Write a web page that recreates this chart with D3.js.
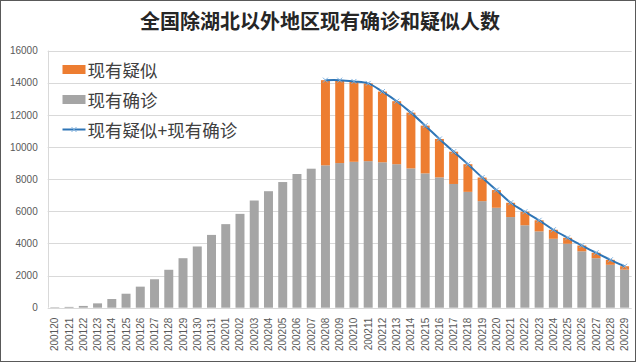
<!DOCTYPE html>
<html><head><meta charset="utf-8">
<script src="https://cdn.jsdelivr.net/npm/d3@7"></script>
<style>body{margin:0;background:#fff}svg{display:block}</style>
</head><body>
<svg id="c" width="641" height="364"></svg>
<script>
const categories = ["200120","200121","200122","200123","200124","200125","200126","200127","200128","200129","200130","200131",
"200201","200202","200203","200204","200205","200206","200207","200208","200209","200210","200211","200212","200213","200214",
"200215","200216","200217","200218","200219","200220","200221","200222","200223","200224","200225","200226","200227","200228","200229"];
const confirmed = [30,50,110,270,540,870,1310,1770,2360,3080,3810,4530,5200,5840,6670,7250,7820,8320,8650,
8860,9000,9080,9120,9050,8930,8670,8360,8110,7700,7210,6630,6220,5640,5130,4750,4290,3980,3510,3080,2670,2370];
const suspected = [null,null,null,null,null,null,null,null,null,null,null,null,null,null,null,null,null,null,null,
5300,5160,5000,4840,4400,3920,3470,2970,2390,2010,1720,1470,1100,890,840,690,560,370,360,340,310,210];
const yTicks = [0,2000,4000,6000,8000,10000,12000,14000,16000];
const titleText = "全国除湖北以外地区现有确诊和疑似人数";
const legendLabels = ["现有疑似","现有确诊","现有疑似+现有确诊"];

const svg = d3.select("#c");
const L = 47.7, R = 631.7, T = 50.6, B = 307.7;
const colOrange = "#ED7D31", colGray = "#A5A5A5", colLine = "#2E75B6", colMark = "#7FB2E0";
const cjk = "'Noto Sans CJK SC','Noto Sans',sans-serif";

svg.append("rect").attr("x",0.5).attr("y",0.5).attr("width",635).attr("height",361)
  .attr("fill","#fff").attr("stroke","#595959").attr("stroke-width",1);

const x = d3.scaleBand().domain(categories).range([L,R]).paddingInner(0.37).paddingOuter(0.185);
const y = d3.scaleLinear().domain([0,16000]).range([B,T]);

// gridlines
svg.append("g").selectAll("line").data(yTicks).join("line")
  .attr("x1",L).attr("x2",R).attr("y1",d=>Math.round(y(d))+0.5).attr("y2",d=>Math.round(y(d))+0.5)
  .attr("stroke","#d9d9d9").attr("stroke-width",1);
svg.append("line").attr("x1",Math.round(L)+0.5).attr("x2",Math.round(L)+0.5).attr("y1",T).attr("y2",B)
  .attr("stroke","#d9d9d9");

// y axis labels
const yAxis = d3.axisLeft(y).tickValues(yTicks).tickSize(0).tickPadding(10).tickFormat(d3.format("d"));
const ya = svg.append("g").attr("transform",`translate(${L},0)`).call(yAxis);
ya.select(".domain").remove();
ya.selectAll("text").attr("font-family","'Liberation Sans',Arial,sans-serif").attr("font-size",10).attr("fill","#595959");

// x axis labels
const xAxis = d3.axisBottom(x).tickSize(0).tickPadding(0);
const xa = svg.append("g").attr("transform",`translate(0,${B})`).call(xAxis);
xa.select(".domain").remove();
xa.selectAll("text").attr("font-family","'Liberation Sans',Arial,sans-serif").attr("font-size",10).attr("fill","#595959")
  .attr("text-anchor","end").attr("dy",null).attr("dominant-baseline","central")
  .attr("transform","translate(0,10) rotate(-90)");

// bars
const rows = categories.map((c,i)=>({c, conf:confirmed[i], susp:suspected[i]}));
svg.append("g").selectAll("rect").data(rows).join("rect")
  .attr("x",d=>x(d.c)).attr("width",x.bandwidth())
  .attr("y",d=>y(d.conf)).attr("height",d=>y(0)-y(d.conf)).attr("fill",colGray);
svg.append("g").selectAll("rect").data(rows.filter(d=>d.susp!=null)).join("rect")
  .attr("x",d=>x(d.c)).attr("width",x.bandwidth())
  .attr("y",d=>y(d.conf+d.susp)).attr("height",d=>y(d.conf)-y(d.conf+d.susp)).attr("fill",colOrange);

// line
const pts = rows.filter(d=>d.susp!=null).map(d=>({c:d.c, v:d.conf+d.susp}));
const line = d3.line().x(d=>x(d.c)+x.bandwidth()/2).y(d=>y(d.v)).curve(d3.curveCatmullRom.alpha(0.5));
svg.append("path").datum(pts).attr("d",line).attr("fill","none").attr("stroke",colLine).attr("stroke-width",2);
const mk = svg.append("g").selectAll("g").data(pts).join("g")
  .attr("transform",d=>`translate(${x(d.c)+x.bandwidth()/2},${y(d.v)})`);
mk.append("path").attr("d","M-2.5,-2.5L2.5,2.5M-2.5,2.5L2.5,-2.5").attr("stroke",colMark).attr("stroke-width",1);

// legend
const lg = svg.append("g");
const ly = [69.5,99.5,129.5];
lg.append("rect").attr("x",62.5).attr("y",ly[0]-4.5).attr("width",23).attr("height",9).attr("fill",colOrange);
lg.append("rect").attr("x",62.5).attr("y",ly[1]-4.5).attr("width",23).attr("height",9).attr("fill",colGray);
lg.append("line").attr("x1",62.5).attr("x2",85.5).attr("y1",ly[2]).attr("y2",ly[2]).attr("stroke",colLine).attr("stroke-width",2);
lg.append("path").attr("transform",`translate(74,${ly[2]})`).attr("d","M-2.5,-2.5L2.5,2.5M-2.5,2.5L2.5,-2.5").attr("stroke",colMark);
lg.selectAll("text").data(legendLabels).join("text")
  .attr("x",87.5).attr("y",(d,i)=>ly[i]).attr("dominant-baseline","central")
  .attr("font-family",cjk).attr("font-size",17.5).attr("fill","#404040").text(d=>d);

// title
svg.append("text").attr("x",320).attr("y",20).attr("text-anchor","middle").attr("dominant-baseline","central")
  .attr("font-family",cjk).attr("font-weight","bold").attr("font-size",20).attr("fill","#262626").text(titleText);
</script>
</body></html>
